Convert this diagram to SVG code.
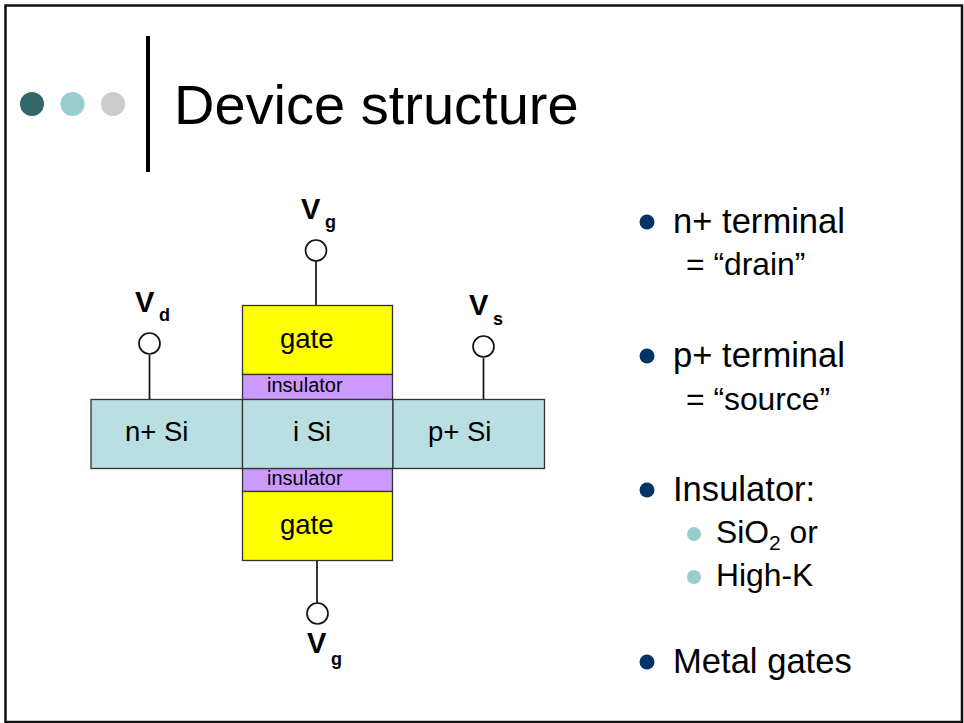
<svg xmlns="http://www.w3.org/2000/svg" width="964" height="723" viewBox="0 0 964 723">
<style>
text{font-family:"Liberation Sans",Arial,sans-serif;fill:#000}
.box{stroke:#333;stroke-width:1.3}
.si{fill:#b9dfe2}.gate{fill:#ffff00}.ins{fill:#cc99ff}
.l{font-size:27.500px;text-anchor:start}
.m{font-size:20px}.v{font-size:29px;font-weight:bold}.s{font-size:18px;font-weight:bold}
.b1{font-size:34.600px}.b2{font-size:31.800px}
.term{fill:#fff;stroke:#111;stroke-width:1.7}
.wire{stroke:#111;stroke-width:1.7;fill:none}
.d1{fill:#003366}.d2{fill:#99cccc}
</style>
<rect width="964" height="723" fill="#fff"/>
<rect x="5.500" y="5.500" width="956.500" height="716.500" fill="none" stroke="#111" stroke-width="2.500"/>
<g id="title-decor">
<circle cx="32" cy="104" r="12" fill="#336666"/>
<circle cx="72.500" cy="104" r="12" fill="#99cccc"/>
<circle cx="113" cy="104" r="12" fill="#cccccc"/>
<rect x="146" y="36" width="4" height="136" fill="#000"/>
<text x="174" y="124" font-size="56">Device structure</text>
</g>
<g id="connectors">
<line class="wire" x1="316" y1="261" x2="316" y2="305"/>
<line class="wire" x1="149.500" y1="355" x2="149.500" y2="399"/>
<line class="wire" x1="483.500" y1="358" x2="483.500" y2="399"/>
<line class="wire" x1="317" y1="560" x2="317" y2="603"/>
</g>
<g id="gate-top"><rect class="box gate" x="242.500" y="305.500" width="150" height="69"/><text class="l" x="280" y="348">gate</text></g>
<g id="insulator-top"><rect class="box ins" x="242.500" y="374.500" width="150" height="25"/><text class="m" x="267" y="392">insulator</text></g>
<g id="insulator-bottom"><rect class="box ins" x="242.500" y="468.500" width="150" height="23"/><text class="m" x="267" y="485">insulator</text></g>
<g id="gate-bottom"><rect class="box gate" x="242.500" y="491.500" width="150" height="69"/><text class="l" x="280" y="534">gate</text></g>
<g id="n-si"><rect class="box si" x="91" y="399.500" width="151.500" height="69"/><text class="l" x="125" y="441">n+ Si</text></g>
<g id="i-si"><rect class="box si" x="242.500" y="399.500" width="150.500" height="69"/><text class="l" x="293" y="441">i Si</text></g>
<g id="p-si"><rect class="box si" x="393" y="399.500" width="151.500" height="69"/><text class="l" x="428" y="441">p+ Si</text></g>
<g id="vg-top"><circle class="term" cx="316" cy="250.500" r="10.500"/><text class="v" x="301" y="219">V</text><text class="s" x="325" y="228">g</text></g>
<g id="vd"><circle class="term" cx="149.500" cy="343.500" r="10.500"/><text class="v" x="135" y="312">V</text><text class="s" x="159" y="321">d</text></g>
<g id="vs"><circle class="term" cx="483.500" cy="346.500" r="10.500"/><text class="v" x="469" y="315">V</text><text class="s" x="493" y="325">s</text></g>
<g id="vg-bottom"><circle class="term" cx="317.500" cy="613.500" r="10.500"/><text class="v" x="307" y="653">V</text><text class="s" x="331" y="665">g</text></g>
<g id="bullets">
<circle class="d1" cx="647" cy="222" r="7.500"/><text class="b1" x="673" y="233">n+ terminal</text>
<text class="b2" x="686" y="275">= “drain”</text>
<circle class="d1" cx="647" cy="356" r="7.500"/><text class="b1" x="673" y="367">p+ terminal</text>
<text class="b2" x="686" y="410">= “source”</text>
<circle class="d1" cx="647" cy="490" r="7.500"/><text class="b1" x="673" y="501">Insulator:</text>
<circle class="d2" cx="694" cy="534" r="7"/><text class="b2" x="716" y="543">SiO<tspan font-size="21" dy="7">2</tspan><tspan dy="-7"> or</tspan></text>
<circle class="d2" cx="694" cy="577" r="7"/><text class="b2" x="716" y="586">High-K</text>
<circle class="d1" cx="647" cy="662" r="7.500"/><text class="b1" x="673" y="673">Metal gates</text>
</g>
</svg>
